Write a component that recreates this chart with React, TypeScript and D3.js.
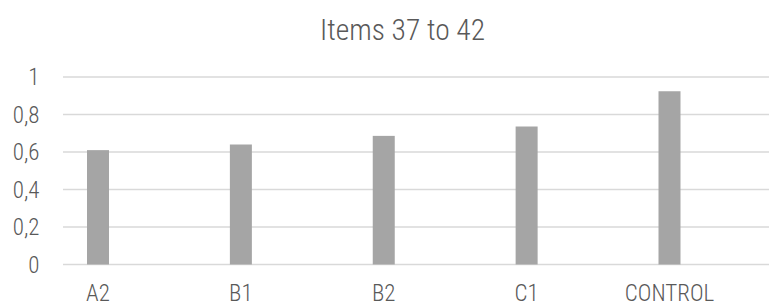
import React, { useEffect, useRef } from 'react'
import * as d3 from 'd3'

const categories = ['A2', 'B1', 'B2', 'C1', 'CONTROL']
const values = [0.61, 0.64, 0.686, 0.736, 0.924]
const yTicks = [0, 0.2, 0.4, 0.6, 0.8, 1]
const title = 'Items 37 to 42'

const layout = { width: 769, height: 304, gridLeft: 63, gridRight: 769, top: 77, bottom: 264.5 }
const FONT = "'Roboto Condensed', 'Liberation Sans Narrow', sans-serif"
const TEXT_COLOR = '#595959'

const draw = (el: SVGSVGElement) => {
    const svg = d3.select(el)
    svg.selectAll('*').remove()

    const x = d3.scalePoint<string>().domain(categories).range([98, 669.5])
    const y = d3.scaleLinear().domain([0, 1]).range([layout.bottom, layout.top])
    const fmt = (v: number) => (v === 0 || v === 1 ? String(v) : d3.format('.1f')(v).replace('.', ','))

    // title
    svg.append('text')
        .attr('x', 402.5)
        .attr('y', 40)
        .attr('text-anchor', 'middle')
        .attr('font-family', FONT)
        .attr('font-weight', 300)
        .attr('font-size', 29.5)
        .attr('fill', TEXT_COLOR)
        .text(title)

    // gridlines
    svg.append('g')
        .selectAll('line')
        .data(yTicks)
        .join('line')
        .attr('x1', layout.gridLeft)
        .attr('x2', layout.gridRight)
        .attr('y1', d => y(d))
        .attr('y2', d => y(d))
        .attr('stroke', '#d9d9d9')
        .attr('stroke-width', 1.4)

    // y labels
    svg.append('g')
        .selectAll('text')
        .data(yTicks)
        .join('text')
        .attr('x', 39.5)
        .attr('y', d => y(d) + 8)
        .attr('text-anchor', 'end')
        .attr('font-family', FONT)
        .attr('font-weight', 300)
        .attr('font-size', 23)
        .attr('fill', TEXT_COLOR)
        .text(d => fmt(d))

    // bars
    const barW = 22
    svg.append('g')
        .selectAll('rect')
        .data(values)
        .join('rect')
        .attr('x', (d, i) => x(categories[i]) - barW / 2)
        .attr('y', d => y(d))
        .attr('width', barW)
        .attr('height', d => layout.bottom - y(d))
        .attr('fill', '#a5a5a5')

    // x labels
    svg.append('g')
        .selectAll('text')
        .data(categories)
        .join('text')
        .attr('x', d => x(d))
        .attr('y', 300.5)
        .attr('text-anchor', 'middle')
        .attr('font-family', FONT)
        .attr('font-weight', 300)
        .attr('font-size', 23)
        .attr('fill', TEXT_COLOR)
        .text(d => d)
}

export default function App() {
    const ref = useRef<SVGSVGElement>(null)
    useEffect(() => {
        if (ref.current) draw(ref.current)
    }, [])
    return (
        <svg
            ref={ref}
            width={layout.width}
            height={layout.height}
            style={{ position: 'absolute', left: 0, top: 0, background: '#fff' }}
        />
    )
}
